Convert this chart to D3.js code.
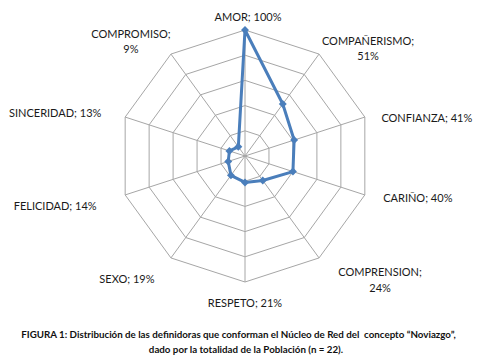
<!DOCTYPE html>
<html><head><meta charset="utf-8">
<script src="https://cdn.jsdelivr.net/npm/d3@7"></script>
<style>
body{margin:0;background:#fff;}
svg{display:block;}
text{font-family:Lato,"Open Sans",sans-serif;}
</style></head>
<body>
<svg id="c" width="483" height="360"></svg>
<script>
const categories = ["AMOR","COMPAÑERISMO","CONFIANZA","CARIÑO","COMPRENSION","RESPETO","SEXO","FELICIDAD","SINCERIDAD","COMPROMISO"];
const values = [100,51,41,40,24,21,19,14,13,9];
const gridLevels = [20,40,60,80,100];
const labelLines = [["AMOR; 100%"],["COMPAÑERISMO;","51%"],["CONFIANZA; 41%"],["CARIÑO; 40%"],["COMPRENSION;","24%"],["RESPETO; 21%"],["SEXO; 19%"],["FELICIDAD; 14%"],["SINCERIDAD; 13%"],["COMPROMISO;","9%"]];
const captionLines = ["FIGURA 1: Distribución de las definidoras que conforman el Núcleo de Red del  concepto “Noviazgo”,","dado por la totalidad de la Población (n = 22)."];

// label layout (offset from axis end, px) – layout only
const labelLayout = [[3,-14],[49,-13.5],[62,0],[53,3],[61,14],[0,20],[-44,21],[-70,11],[-70,-5],[-40,-21]];

const svg = d3.select("#c");
const cx = 245, cy = 156, R = 126;
const n = categories.length;
const r = d3.scaleLinear().domain([0,100]).range([0,R]);
const ang = d3.scalePoint().domain(d3.range(n+1)).range([0,2*Math.PI]);
const pt = (i,v)=>[cx + r(v)*Math.sin(ang(i%n)), cy - r(v)*Math.cos(ang(i%n))];

const g = svg.append("g");
// rings
gridLevels.forEach(l=>{
  g.append("path")
   .attr("d", d3.line()(d3.range(n+1).map(i=>pt(i,l))))
   .attr("fill","none").attr("stroke","#a6a6a6").attr("stroke-width",1);
});
// spokes
d3.range(n).forEach(i=>{
  const [x,y]=pt(i,100);
  g.append("line").attr("x1",cx).attr("y1",cy).attr("x2",x).attr("y2",y)
   .attr("stroke","#a6a6a6").attr("stroke-width",1);
});
// series
const pts = values.map((v,i)=>pt(i,v));
g.append("path").attr("d", d3.line()(pts.concat([pts[0]])))
 .attr("fill","none").attr("stroke","#4A7EBB").attr("stroke-width",3).attr("stroke-linejoin","round");
g.selectAll(".m").data(values).join("path")
 .attr("d", d3.symbol().type(d3.symbolDiamond2).size(40))
 .attr("transform",(v,i)=>`translate(${pt(i,v)[0]},${pt(i,v)[1]})`)
 .attr("fill","#4A7EBB");
// labels
categories.forEach((c,i)=>{
  const [x,y]=pt(i,100);
  const [dx,dy]=labelLayout[i];
  const t = g.append("text").attr("text-anchor","middle").attr("font-size",11).attr("fill","#1a1a1a");
  labelLines[i].forEach((ln,k)=>{
    t.append("tspan").attr("x",x+dx).attr("y",y+dy+k*15.3).attr("dominant-baseline","central").text(ln);
  });
});
// caption
const cap = svg.append("g");
const c1 = cap.append("text").attr("x",238.5).attr("y",334).attr("text-anchor","middle")
  .attr("dominant-baseline","central").attr("font-weight","bold").attr("font-size",8.5).attr("fill","#111")
  .style("white-space","pre").text(captionLines[0]);
const w = c1.node().getComputedTextLength();
const fs = 8.5*435/w;
c1.attr("font-size",fs);
cap.append("text").attr("x",246).attr("y",348.5).attr("text-anchor","middle")
  .attr("dominant-baseline","central").attr("font-weight","bold").attr("font-size",fs).attr("fill","#111")
  .text(captionLines[1]);
</script>
</body></html>
